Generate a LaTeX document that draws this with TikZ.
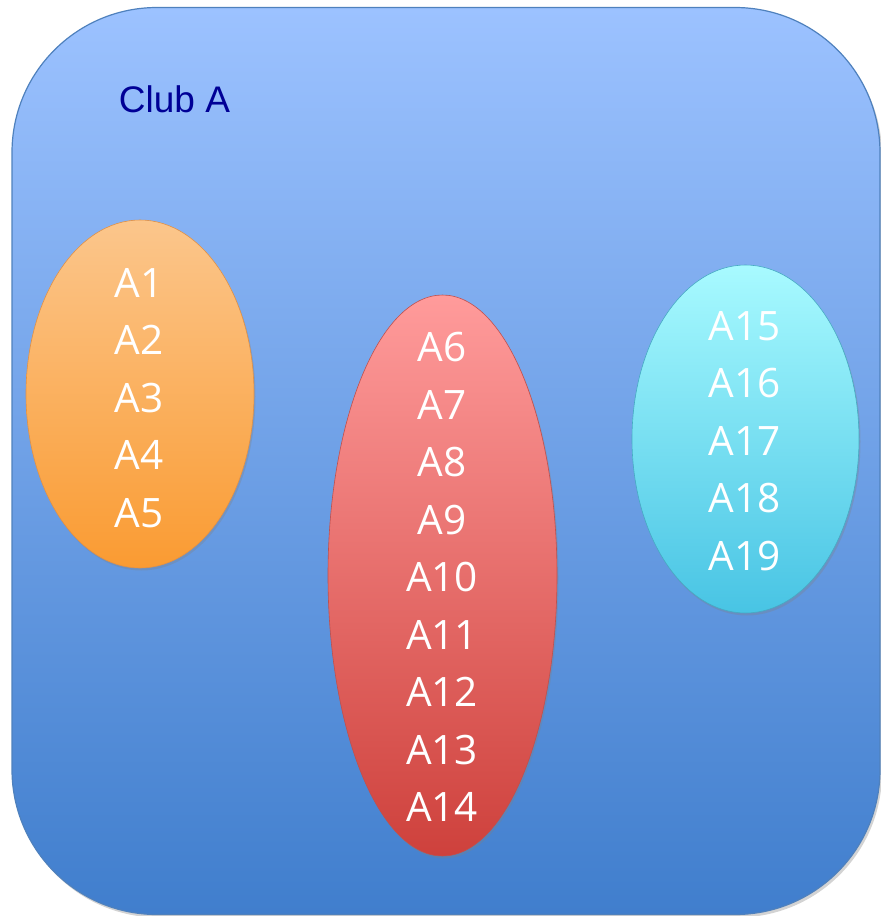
\documentclass[tikz,border=0pt]{standalone}
\usepackage{fontspec}
\setmainfont{Open Sans}
\newfontfamily\clubfont{Liberation Sans}
\usetikzlibrary{shapes.geometric,shadows}
\definecolor{boxtop}{RGB}{156,194,255}
\definecolor{boxbot}{RGB}{64,126,205}
\definecolor{boxline}{RGB}{79,129,189}
\definecolor{navytxt}{RGB}{0,0,150}
\definecolor{ortop}{RGB}{251,198,140}
\definecolor{orbot}{RGB}{250,155,50}
\definecolor{orline}{RGB}{225,145,70}
\definecolor{rdtop}{RGB}{255,155,155}
\definecolor{rdbot}{RGB}{206,65,60}
\definecolor{rdline}{RGB}{192,80,77}
\definecolor{cytop}{RGB}{168,250,255}
\definecolor{cybot}{RGB}{72,196,228}
\definecolor{cyline}{RGB}{70,170,195}
\tikzset{
  group/.style={ellipse, inner sep=0pt, line width=0.6pt,
    drop shadow={shadow xshift=1.5pt, shadow yshift=-2.5pt, opacity=0.3}},
  members/.style={text=white, align=center, inner sep=0pt,
    font=\fontsize{40.5}{57.5}\selectfont},
}
\begin{document}
\begin{tikzpicture}[x=1pt,y=-1pt]
\useasboundingbox (0,0) rectangle (881,916);
\node[draw=boxline, line width=1.2pt, rounded corners=145pt,
  top color=boxtop, bottom color=boxbot,
  minimum width=868pt, minimum height=907pt, inner sep=0pt,
  drop shadow={shadow xshift=2pt, shadow yshift=-3pt, opacity=0.35}] (club) at (446,461) {};
\node[anchor=base, inner sep=0pt, text=navytxt,
  font=\clubfont\fontsize{37}{44}\selectfont] (title) at (174.5,112) {Club A};
\node[group, draw=orline, top color=ortop, bottom color=orbot,
  minimum width=228pt, minimum height=348pt] (orange) at (140,394) {};
\node[group, draw=rdline, top color=rdtop, bottom color=rdbot,
  minimum width=229pt, minimum height=561pt] (red) at (442.5,575.5) {};
\node[group, draw=cyline, top color=cytop, bottom color=cybot,
  minimum width=227pt, minimum height=348pt] (cyan) at (745.5,439) {};
\node[members] (orangetext) at (139,398) {A1\\A2\\A3\\A4\\A5};
\node[members] (redtext) at (442,577) {A6\\A7\\A8\\A9\\A10\\A11\\A12\\A13\\A14};
\node[members] (cyantext) at (744.5,441) {A15\\A16\\A17\\A18\\A19};
\end{tikzpicture}
\end{document}
